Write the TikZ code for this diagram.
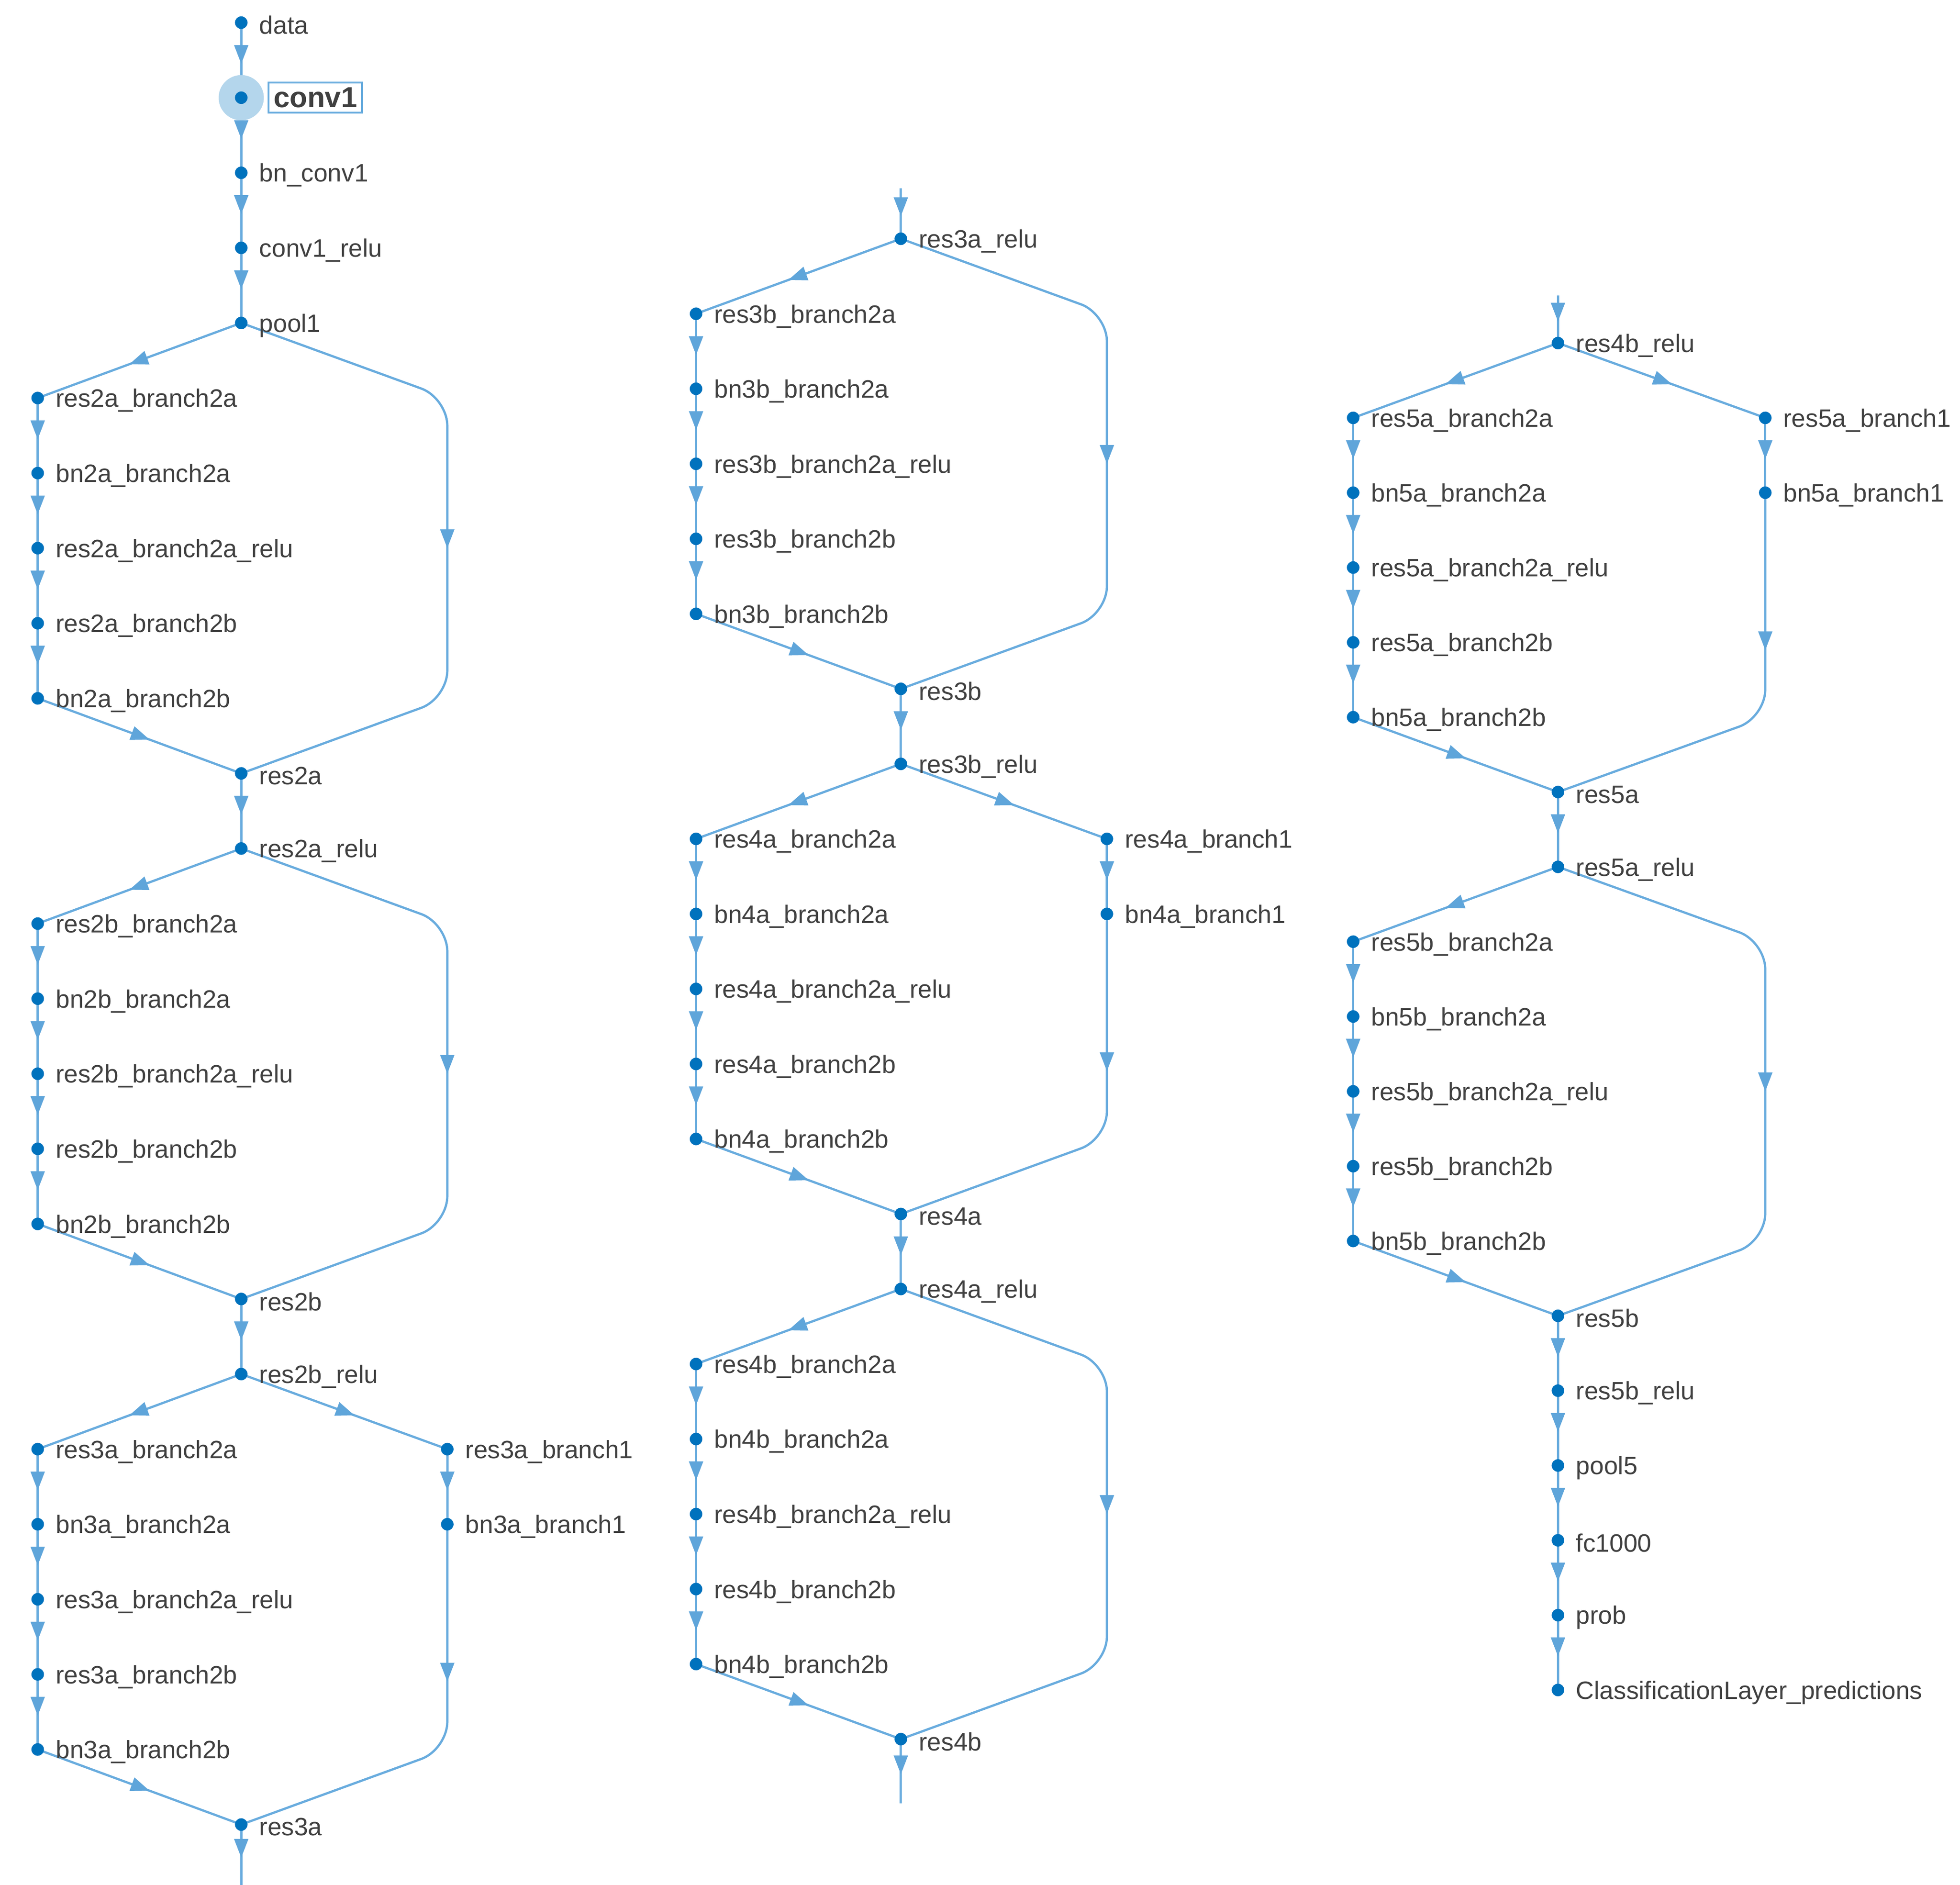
\documentclass[tikz,border=0pt]{standalone}
\usepackage{fontspec}
\setmainfont{Liberation Sans}
\usetikzlibrary{arrows.meta,decorations.markings,backgrounds}
\definecolor{dotc}{RGB}{0,114,189}
\definecolor{edgec}{RGB}{105,172,222}
\definecolor{arrc}{RGB}{95,165,218}
\definecolor{txt}{RGB}{64,64,64}
\definecolor{halo}{RGB}{180,214,236}
\tikzset{
  dot/.style={circle,fill=dotc,inner sep=0pt,minimum size=10pt},
  lbl/.style={font=\fontsize{20}{24}\selectfont,text=txt,inner sep=0pt,label distance=9pt,yshift=-2pt},
  edge/.style={draw=edgec,line width=1.8pt,rounded corners=22pt,
    decoration={markings,mark=at position #1 with {\arrow[arrc]{Triangle[width=11pt,length=15pt]}}},
    postaction=decorate},
  edge/.default=0.55
}
\newcommand\nd[4]{\node[dot,label={[lbl]0:#4}] (#1) at (#2,#3) {};}
\begin{document}
\begin{tikzpicture}[x=1pt,y=-1pt]
\useasboundingbox (0,0) rectangle (1560,1500);
% column 1
\node[circle,fill=halo,minimum size=36pt,inner sep=0pt] (halo) at (192,77.75) {};
\node[dot] (conv1) at (192,77.75) {};
\node[draw=edgec,line width=1.5pt,anchor=west,font=\fontsize{23}{26}\selectfont\bfseries,text=txt,inner sep=4pt] (conv1l) at (213,77.75) {conv1};
\nd{data}{192}{18}{data}
\nd{bnconv1}{192}{137.5}{bn\_conv1}
\nd{conv1relu}{192}{197.25}{conv1\_relu}
\nd{pool1}{192}{257}{pool1}
\nd{ra2a}{30}{316.75}{res2a\_branch2a}
\nd{bnra2a}{30}{376.5}{bn2a\_branch2a}
\nd{ra2ar}{30}{436.25}{res2a\_branch2a\_relu}
\nd{ra2b}{30}{496}{res2a\_branch2b}
\nd{bnra2b}{30}{555.75}{bn2a\_branch2b}
\nd{res2a}{192}{615.5}{res2a}
\nd{res2ar}{192}{675.25}{res2a\_relu}
\nd{rb2a}{30}{735}{res2b\_branch2a}
\nd{bnrb2a}{30}{794.75}{bn2b\_branch2a}
\nd{rb2ar}{30}{854.5}{res2b\_branch2a\_relu}
\nd{rb2b}{30}{914.25}{res2b\_branch2b}
\nd{bnrb2b}{30}{974}{bn2b\_branch2b}
\nd{res2b}{192}{1033.75}{res2b}
\nd{res2br}{192}{1093.5}{res2b\_relu}
\nd{r3a2a}{30}{1153.25}{res3a\_branch2a}
\nd{bn3a2a}{30}{1213}{bn3a\_branch2a}
\nd{r3a2ar}{30}{1272.75}{res3a\_branch2a\_relu}
\nd{r3a2b}{30}{1332.5}{res3a\_branch2b}
\nd{bn3a2b}{30}{1392.25}{bn3a\_branch2b}
\nd{r3a1}{356}{1153.25}{res3a\_branch1}
\nd{bn3a1}{356}{1213}{bn3a\_branch1}
\nd{res3a}{192}{1452}{res3a}
\coordinate (e1) at (192,1500);
% column 2
\coordinate (s2) at (717,150);
\nd{res3ar}{717}{190}{res3a\_relu}
\nd{r3b2a}{554}{249.7}{res3b\_branch2a}
\nd{bn3b2a}{554}{309.4}{bn3b\_branch2a}
\nd{r3b2ar}{554}{369.1}{res3b\_branch2a\_relu}
\nd{r3b2b}{554}{428.8}{res3b\_branch2b}
\nd{bn3b2b}{554}{488.5}{bn3b\_branch2b}
\nd{res3b}{717}{548.2}{res3b}
\nd{res3br}{717}{607.9}{res3b\_relu}
\nd{r4a2a}{554}{667.6}{res4a\_branch2a}
\nd{bn4a2a}{554}{727.3}{bn4a\_branch2a}
\nd{r4a2ar}{554}{787}{res4a\_branch2a\_relu}
\nd{r4a2b}{554}{846.7}{res4a\_branch2b}
\nd{bn4a2b}{554}{906.4}{bn4a\_branch2b}
\nd{r4a1}{881}{667.6}{res4a\_branch1}
\nd{bn4a1}{881}{727.3}{bn4a\_branch1}
\nd{res4a}{717}{966.1}{res4a}
\nd{res4ar}{717}{1025.8}{res4a\_relu}
\nd{r4b2a}{554}{1085.5}{res4b\_branch2a}
\nd{bn4b2a}{554}{1145.2}{bn4b\_branch2a}
\nd{r4b2ar}{554}{1204.9}{res4b\_branch2a\_relu}
\nd{r4b2b}{554}{1264.6}{res4b\_branch2b}
\nd{bn4b2b}{554}{1324.3}{bn4b\_branch2b}
\nd{res4b}{717}{1384}{res4b}
\coordinate (e2) at (717,1435);
% column 3
\coordinate (s3) at (1240,235);
\nd{res4br}{1240}{273}{res4b\_relu}
\nd{r5a2a}{1077}{332.55}{res5a\_branch2a}
\nd{bn5a2a}{1077}{392.1}{bn5a\_branch2a}
\nd{r5a2ar}{1077}{451.65}{res5a\_branch2a\_relu}
\nd{r5a2b}{1077}{511.2}{res5a\_branch2b}
\nd{bn5a2b}{1077}{570.75}{bn5a\_branch2b}
\nd{r5a1}{1405}{332.55}{res5a\_branch1}
\nd{bn5a1}{1405}{392.1}{bn5a\_branch1}
\nd{res5a}{1240}{630.3}{res5a}
\nd{res5ar}{1240}{689.85}{res5a\_relu}
\nd{r5b2a}{1077}{749.4}{res5b\_branch2a}
\nd{bn5b2a}{1077}{808.95}{bn5b\_branch2a}
\nd{r5b2ar}{1077}{868.5}{res5b\_branch2a\_relu}
\nd{r5b2b}{1077}{928.05}{res5b\_branch2b}
\nd{bn5b2b}{1077}{987.6}{bn5b\_branch2b}
\nd{res5b}{1240}{1047.15}{res5b}
\nd{res5br}{1240}{1106.7}{res5b\_relu}
\nd{pool5}{1240}{1166.25}{pool5}
\nd{fc}{1240}{1225.8}{fc1000}
\nd{prob}{1240}{1285.35}{prob}
\nd{cls}{1240}{1344.9}{ClassificationLayer\_predictions}
\begin{scope}[on background layer]
\foreach \a/\b in {data/conv1,conv1/bnconv1,bnconv1/conv1relu,conv1relu/pool1,
 pool1/ra2a,ra2a/bnra2a,bnra2a/ra2ar,ra2ar/ra2b,ra2b/bnra2b,bnra2b/res2a,res2a/res2ar,
 res2ar/rb2a,rb2a/bnrb2a,bnrb2a/rb2ar,rb2ar/rb2b,rb2b/bnrb2b,bnrb2b/res2b,res2b/res2br,
 res2br/r3a2a,r3a2a/bn3a2a,bn3a2a/r3a2ar,r3a2ar/r3a2b,r3a2b/bn3a2b,bn3a2b/res3a,res3a/e1,
 res2br/r3a1,r3a1/bn3a1,
 s2/res3ar,res3ar/r3b2a,r3b2a/bn3b2a,bn3b2a/r3b2ar,r3b2ar/r3b2b,r3b2b/bn3b2b,bn3b2b/res3b,res3b/res3br,
 res3br/r4a2a,r4a2a/bn4a2a,bn4a2a/r4a2ar,r4a2ar/r4a2b,r4a2b/bn4a2b,bn4a2b/res4a,res4a/res4ar,
 res3br/r4a1,r4a1/bn4a1,
 res4ar/r4b2a,r4b2a/bn4b2a,bn4b2a/r4b2ar,r4b2ar/r4b2b,r4b2b/bn4b2b,bn4b2b/res4b,res4b/e2,
 s3/res4br,res4br/r5a2a,r5a2a/bn5a2a,bn5a2a/r5a2ar,r5a2ar/r5a2b,r5a2b/bn5a2b,bn5a2b/res5a,res5a/res5ar,
 res4br/r5a1,r5a1/bn5a1,
 res5ar/r5b2a,r5b2a/bn5b2a,bn5b2a/r5b2ar,r5b2ar/r5b2b,r5b2b/bn5b2b,bn5b2b/res5b,res5b/res5br,
 res5br/pool5,pool5/fc,fc/prob,prob/cls}
 \draw[edge] (\a.center) -- (\b.center);
% identity skips
\draw[edge=0.5] (pool1.center) -- (356,316.75) -- (356,555.75) -- (res2a.center);
\draw[edge=0.5] (res2ar.center) -- (356,735) -- (356,974) -- (res2b.center);
\draw[edge=0.5] (res3ar.center) -- (881,249.7) -- (881,488.5) -- (res3b.center);
\draw[edge=0.5] (res4ar.center) -- (881,1085.5) -- (881,1324.3) -- (res4b.center);
\draw[edge=0.5] (res5ar.center) -- (1405,749.4) -- (1405,987.6) -- (res5b.center);
% projection skips
\draw[edge=0.36] (bn3a1.center) -- (356,1392.25) -- (res3a.center);
\draw[edge=0.36] (bn4a1.center) -- (881,906.4) -- (res4a.center);
\draw[edge=0.36] (bn5a1.center) -- (1405,570.75) -- (res5a.center);
\end{scope}
\end{tikzpicture}
\end{document}
